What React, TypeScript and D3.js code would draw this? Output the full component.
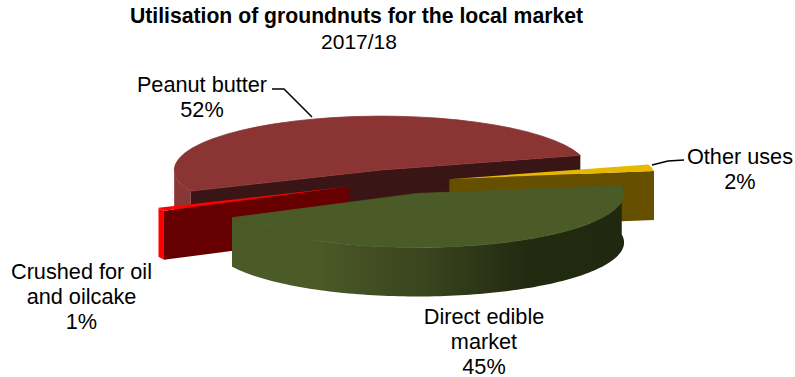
import * as d3 from "d3";

const categories = ["Peanut butter", "Other uses", "Direct edible market", "Crushed for oil and oilcake"];
const shares = [52, 2, 45, 1];
const topColours = ["#8a3434", "#e6b800", "#4b5b27", "#ff0000"];
const wallColours = ["#3a1515", "#665000", "#4b5b27", "#660000"];
const explodeFactors = [1, 0.91, 1.03, 1];

const W = 795;
const H = 377;
const RX = 207;
const RY = 54;
const DEPTH = 49;
const BASE_X = 399.7;
const BASE_Y = 181.5;
const EXPLODE_X = 55.8;
const EXPLODE_Y = 12.2;
const START = (-113 * Math.PI) / 180;

const FONT = "'Liberation Sans', Arial, sans-serif";

type Pt = [number, number];
const line = d3.line<Pt>();

const slices = d3
  .pie<number>()
  .sort(null)
  .startAngle(START)
  .endAngle(START + 2 * Math.PI)(shares)
  .map((s, i) => {
    const mid = (s.startAngle + s.endAngle) / 2;
    const k = explodeFactors[i];
    return {
      ...s,
      cx: BASE_X + k * EXPLODE_X * Math.sin(mid),
      cy: BASE_Y - k * EXPLODE_Y * Math.cos(mid),
      top: topColours[i],
      wall: wallColours[i],
    };
  });

type Slice = (typeof slices)[number];

const rim = (s: Slice, a: number): Pt => [s.cx + RX * Math.sin(a), s.cy - RY * Math.cos(a)];
const drop = ([x, y]: Pt): Pt => [x, y + DEPTH];

// Extruded wall under the rim between two pie angles.
const rimWall = (s: Slice, a0: number, a1: number) => {
  const n = Math.max(2, Math.ceil(Math.abs(a1 - a0) * 40));
  const pts = d3.range(n + 1).map((i) => rim(s, a0 + ((a1 - a0) * i) / n));
  return line([...pts, ...pts.slice().reverse().map(drop)]) + "Z";
};

// Flat cut face following the apex and one or two rim points.
const cutWall = (s: Slice, angles: number[]) => {
  const top: Pt[] = [rim(s, angles[0]), [s.cx, s.cy], ...angles.slice(1).map((a) => rim(s, a))];
  return line([...top, ...top.slice().reverse().map(drop)]) + "Z";
};

const TopFace = ({ s, seal = false }: { s: Slice; seal?: boolean }) => (
  <path
    d={d3.arc()({ innerRadius: 0, outerRadius: 1, startAngle: s.startAngle, endAngle: s.endAngle }) as string}
    transform={`translate(${s.cx},${s.cy}) scale(${RX},${RY})`}
    fill={s.top}
    stroke={seal ? s.top : "none"}
    strokeWidth={seal ? 0.8 : 0}
    vectorEffect="non-scaling-stroke"
  />
);

const LABELS: { x: number; y: number; lines: string[] }[] = [
  { x: 202, y: 92, lines: ["Peanut butter", "52%"] },
  { x: 740, y: 163.5, lines: ["Other uses", "2%"] },
  { x: 81.5, y: 279, lines: ["Crushed for oil", "and oilcake", "1%"] },
  { x: 484, y: 323.5, lines: ["Direct edible", "market", "45%"] },
];

export default function App() {
  const [peanut, other, direct, crushed] = slices;
  const quarterLeft = -Math.PI / 2;
  return (
    <svg
      width={W}
      height={H}
      viewBox={`0 0 ${W} ${H}`}
      style={{ position: "absolute", left: 0, top: 0, display: "block", background: "#fff" }}
      fontFamily={FONT}
    >
      <defs>
        <linearGradient id="edibleWall" gradientUnits="userSpaceOnUse" x1={233} x2={625} y1={0} y2={0}>
          <stop offset="0" stopColor="#4b5b27" />
          <stop offset="0.2" stopColor="#4b5b27" />
          <stop offset="0.3" stopColor="#465224" />
          <stop offset="0.49" stopColor="#3a441e" />
          <stop offset="0.75" stopColor="#222a10" />
          <stop offset="1" stopColor="#20280f" />
        </linearGradient>
      </defs>

      {/* Peanut butter */}
      <path d={rimWall(peanut, peanut.startAngle, quarterLeft)} fill="#883636" />
      <path d={cutWall(peanut, [peanut.startAngle, peanut.endAngle])} fill={peanut.wall} />
      <TopFace s={peanut} seal />

      {/* Other uses */}
      <path d={cutWall(other, [other.endAngle])} fill={other.wall} />
      <TopFace s={other} />

      {/* Crushed for oil and oilcake */}
      <path d={rimWall(crushed, crushed.startAngle, crushed.endAngle)} fill={crushed.top} />
      <path d={cutWall(crushed, [crushed.startAngle])} fill={crushed.wall} />
      <TopFace s={crushed} />

      {/* Direct edible market */}
      <path d={rimWall(direct, direct.startAngle, direct.endAngle)} fill="url(#edibleWall)" />
      <TopFace s={direct} seal />

      {/* Leader lines */}
      <path d="M272,89 L284,89 L312,117" fill="none" stroke="#000" strokeWidth={1.5} />
      <path d="M652,165 L668,161 L684,160" fill="none" stroke="#000" strokeWidth={1.5} />

      <text x={356.5} y={23} textAnchor="middle" fontSize={21.2} fontWeight="bold" fill="#000">
        Utilisation of groundnuts for the local market
      </text>
      <text x={359} y={49} textAnchor="middle" fontSize={21} fill="#000">
        2017/18
      </text>

      {LABELS.map((l, i) => (
        <text key={categories[i]} textAnchor="middle" fontSize={21.7} fill="#000">
          {l.lines.map((t, j) => (
            <tspan key={t} x={l.x} y={l.y + j * 25}>
              {t}
            </tspan>
          ))}
        </text>
      ))}
    </svg>
  );
}
